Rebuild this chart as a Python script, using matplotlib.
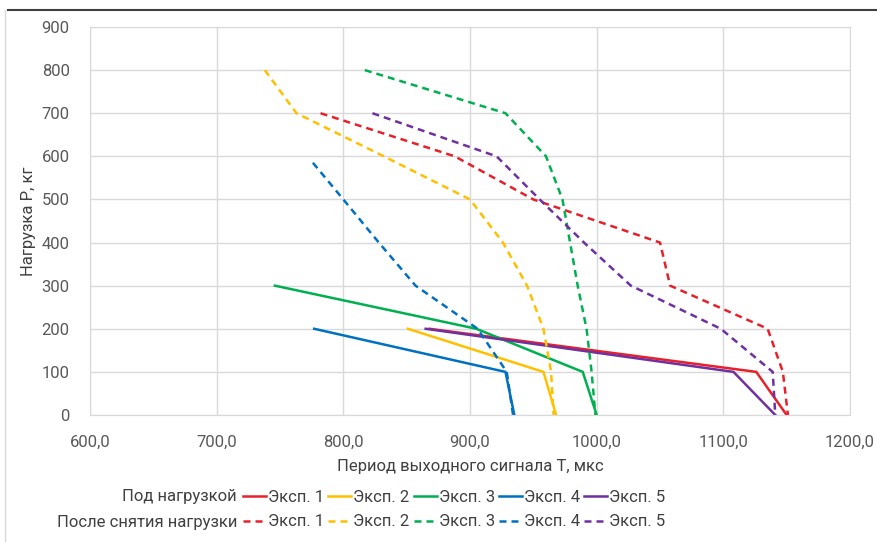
import numpy as np
import matplotlib
matplotlib.use("Agg")
import matplotlib.pyplot as plt
from matplotlib.lines import Line2D
from matplotlib.ticker import FuncFormatter, MultipleLocator

plt.rcParams["font.family"] = ["Roboto", "DejaVu Sans"]
FS = 12

LABELS = ["Эксп. 1", "Эксп. 2", "Эксп. 3", "Эксп. 4", "Эксп. 5"]
COLORS = ["#E8202A", "#FFC000", "#00B050", "#0070C0", "#7030A0"]

# under load (solid): period T, load P
T_on1 = [868, 1126, 1150]
P_on1 = [200, 100, 0]
T_on2 = [851, 958, 968]
P_on2 = [200, 100, 0]
T_on3 = [746, 905, 989, 1000]
P_on3 = [300, 200, 100, 0]
T_on4 = [777, 928, 935]
P_on4 = [200, 100, 0]
T_on5 = [865, 1108, 1141]
P_on5 = [200, 100, 0]

# after unloading (dashed)
T_off1 = [782, 888, 950, 1050, 1058, 1135, 1147, 1151]
P_off1 = [700, 600, 500, 400, 300, 200, 100, 0]
T_off2 = [738, 763, 832, 900, 926, 945, 958, 964, 966]
P_off2 = [800, 700, 600, 500, 400, 300, 200, 100, 0]
T_off3 = [817, 928, 960, 973, 979, 985, 992, 996, 999]
P_off3 = [800, 700, 600, 500, 400, 300, 200, 100, 0]
T_off4 = [776, 800, 828, 857, 906, 929, 934]
P_off4 = [585, 500, 400, 300, 200, 100, 0]
T_off5 = [823, 921, 955, 990, 1027, 1098, 1139, 1141]
P_off5 = [700, 600, 500, 400, 300, 200, 100, 0]

on = [(T_on1, P_on1), (T_on2, P_on2), (T_on3, P_on3), (T_on4, P_on4), (T_on5, P_on5)]
off = [(T_off1, P_off1), (T_off2, P_off2), (T_off3, P_off3), (T_off4, P_off4), (T_off5, P_off5)]

fig = plt.figure(figsize=(8.77, 5.42), dpi=100)
ax = fig.add_axes([90 / 877, 1 - 415 / 542, 760 / 877, 388 / 542])

lw = 1.8
h_on, h_off = [], []
for (t, p), c, lab in zip(on, COLORS, LABELS):
    h_on += ax.plot(t, p, color=c, lw=lw, label=lab, solid_joinstyle="miter")
for (t, p), c, lab in zip(off, COLORS, LABELS):
    h_off += ax.plot(t, p, color=c, lw=lw, ls=(0, (2.8, 2.0)), label=lab)

ax.set_xlim(600, 1200)
ax.set_ylim(0, 900)
ax.xaxis.set_major_locator(MultipleLocator(100))
ax.yaxis.set_major_locator(MultipleLocator(100))
ax.xaxis.set_major_formatter(FuncFormatter(lambda v, _: f"{v:.1f}".replace(".", ",")))
ax.grid(True, color="#d9d9d9", lw=1)
ax.set_axisbelow(True)
for s in ax.spines.values():
    s.set_color("#d9d9d9")
ax.tick_params(length=0, labelsize=FS, colors="#595959")
ax.tick_params(axis="x", pad=14)
ax.tick_params(axis="y", pad=14.5)
ax.set_xlabel("Период выходного сигнала Т, мкс", fontsize=FS, color="#404040", labelpad=7)
ax.set_ylabel("Нагрузка Р, кг", fontsize=FS, color="#404040", labelpad=4)

# two legend rows with their captions
kw = dict(ncol=5, frameon=False, fontsize=FS, handlelength=1.38, handletextpad=0.12,
          columnspacing=0.25, borderpad=0, borderaxespad=0, loc="center left")
for handles, y, cap in [(h_on, 1 - 497 / 542, "Под нагрузкой"),
                        (h_off, 1 - 522 / 542, "После снятия нагрузки")]:
    leg = fig.legend(handles=handles, bbox_to_anchor=(243 / 877, y), **kw)
    for t in leg.get_texts():
        t.set_color("#404040")
    fig.text(237 / 877, y, cap, ha="right", va="center", fontsize=FS, color="#404040")

# chart border pieces visible in the source
fig.add_artist(Line2D([8 / 877, 1], [1 - 10 / 542] * 2, color="#404040", lw=1.5))
fig.add_artist(Line2D([5 / 877] * 2, [0, 1 - 10 / 542], color="#d9d9d9", lw=1))

fig.savefig("out.png", dpi=100)
